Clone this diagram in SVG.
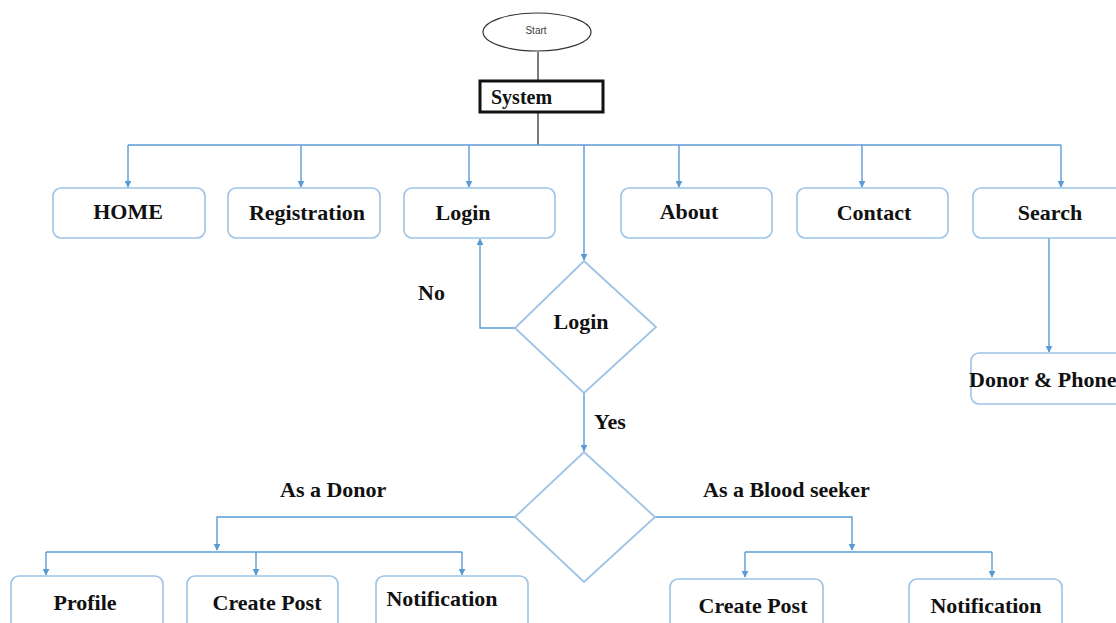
<svg xmlns="http://www.w3.org/2000/svg" width="1116" height="623" viewBox="0 0 1116 623">
  <style>
    .box { fill: #ffffff; stroke: #9dc3e6; stroke-width: 1.6; }
    .dia { fill: #ffffff; stroke: #9dc3e6; stroke-width: 1.8; }
    .lbl { font-family: "Liberation Serif", "Times New Roman", serif; font-weight: bold; font-size: 22px; fill: #111111; }
    .conn { fill: none; stroke: #5b9bd5; stroke-width: 1.4; }
    .dark { fill: none; stroke: #404040; stroke-width: 1.4; }
  </style>
  <defs>
    <marker id="arrow" viewBox="0 0 10 10" refX="9" refY="5" markerWidth="7" markerHeight="7" orient="auto" markerUnits="userSpaceOnUse">
      <path d="M0,0 L10,5 L0,10 z" fill="#5b9bd5"/>
    </marker>
  </defs>
  <rect width="1116" height="623" fill="#ffffff"/>

  <g id="connectors">
    <path class="dark" d="M538,52 V80"/>
    <path class="dark" d="M538,113 V145"/>
    <path class="conn" d="M128,145 H1061"/>
    <path class="conn" d="M128,145 V187" marker-end="url(#arrow)"/>
    <path class="conn" d="M301,145 V187" marker-end="url(#arrow)"/>
    <path class="conn" d="M469,145 V187" marker-end="url(#arrow)"/>
    <path class="conn" d="M584,145 V260" marker-end="url(#arrow)"/>
    <path class="conn" d="M679,145 V187" marker-end="url(#arrow)"/>
    <path class="conn" d="M862,145 V187" marker-end="url(#arrow)"/>
    <path class="conn" d="M1061,145 V187" marker-end="url(#arrow)"/>
    <path class="conn" d="M1049,238 V352" marker-end="url(#arrow)"/>
    <path class="conn" d="M515,328 H480 V239" marker-end="url(#arrow)"/>
    <path class="conn" d="M584,393 V451" marker-end="url(#arrow)"/>
    <path class="conn" d="M515,517 H217 V550" marker-end="url(#arrow)"/>
    <path class="conn" d="M46,552 H462"/>
    <path class="conn" d="M46,552 V575" marker-end="url(#arrow)"/>
    <path class="conn" d="M256,552 V575" marker-end="url(#arrow)"/>
    <path class="conn" d="M462,552 V575" marker-end="url(#arrow)"/>
    <path class="conn" d="M655,517 H852 V550" marker-end="url(#arrow)"/>
    <path class="conn" d="M745,552 H992"/>
    <path class="conn" d="M745,552 V577" marker-end="url(#arrow)"/>
    <path class="conn" d="M992,552 V577" marker-end="url(#arrow)"/>
  </g>

  <g id="start">
    <ellipse cx="537" cy="32" rx="54" ry="19" fill="#ffffff" stroke="#333333" stroke-width="1.2"/>
    <text x="536" y="34" text-anchor="middle" font-family="Liberation Sans, Arial, sans-serif" font-size="10" fill="#404040">Start</text>
  </g>

  <g id="system">
    <rect x="480" y="81" width="123" height="31" fill="#ffffff" stroke="#111111" stroke-width="3"/>
    <text x="491" y="104" class="lbl" font-size="20" style="font-size:20px">System</text>
  </g>

  <g id="home">
    <rect class="box" x="53" y="188" width="152" height="50" rx="8"/>
    <text class="lbl" x="128" y="219" text-anchor="middle">HOME</text>
  </g>
  <g id="registration">
    <rect class="box" x="228" y="188" width="152" height="50" rx="8"/>
    <text class="lbl" x="307" y="220" text-anchor="middle">Registration</text>
  </g>
  <g id="login">
    <rect class="box" x="404" y="188" width="151" height="50" rx="8"/>
    <text class="lbl" x="463" y="220" text-anchor="middle">Login</text>
  </g>
  <g id="about">
    <rect class="box" x="621" y="188" width="151" height="50" rx="8"/>
    <text class="lbl" x="689" y="219" text-anchor="middle">About</text>
  </g>
  <g id="contact">
    <rect class="box" x="797" y="188" width="151" height="50" rx="8"/>
    <text class="lbl" x="874" y="220" text-anchor="middle">Contact</text>
  </g>
  <g id="search">
    <rect class="box" x="973" y="188" width="155" height="50" rx="8"/>
    <text class="lbl" x="1050" y="220" text-anchor="middle">Search</text>
  </g>
  <g id="donor-phone">
    <rect class="box" x="971" y="353" width="157" height="51" rx="8"/>
    <text class="lbl" x="969" y="387">Donor &amp; Phone</text>
  </g>

  <g id="login-check">
    <polygon class="dia" points="584,261 656,327 584,393 515,328"/>
    <text class="lbl" x="581" y="329" text-anchor="middle">Login</text>
  </g>
  <g id="labels">
    <text class="lbl" x="418" y="300">No</text>
    <text class="lbl" x="594" y="429">Yes</text>
    <text class="lbl" x="280" y="497">As a Donor</text>
    <text class="lbl" x="703" y="497">As a Blood seeker</text>
  </g>

  <g id="role">
    <polygon class="dia" points="584,452 655,517 584,582 515,517"/>
  </g>

  <g id="profile">
    <rect class="box" x="11" y="576" width="152" height="60" rx="8"/>
    <text class="lbl" x="85" y="610" text-anchor="middle">Profile</text>
  </g>
  <g id="donor-create-post">
    <rect class="box" x="187" y="576" width="151" height="60" rx="8"/>
    <text class="lbl" x="267" y="610" text-anchor="middle">Create Post</text>
  </g>
  <g id="donor-notification">
    <rect class="box" x="376" y="576" width="152" height="60" rx="8"/>
    <text class="lbl" x="442" y="606" text-anchor="middle">Notification</text>
  </g>
  <g id="seeker-create-post">
    <rect class="box" x="670" y="579" width="153" height="60" rx="8"/>
    <text class="lbl" x="753" y="613" text-anchor="middle">Create Post</text>
  </g>
  <g id="seeker-notification">
    <rect class="box" x="909" y="579" width="153" height="60" rx="8"/>
    <text class="lbl" x="986" y="613" text-anchor="middle">Notification</text>
  </g>
</svg>
